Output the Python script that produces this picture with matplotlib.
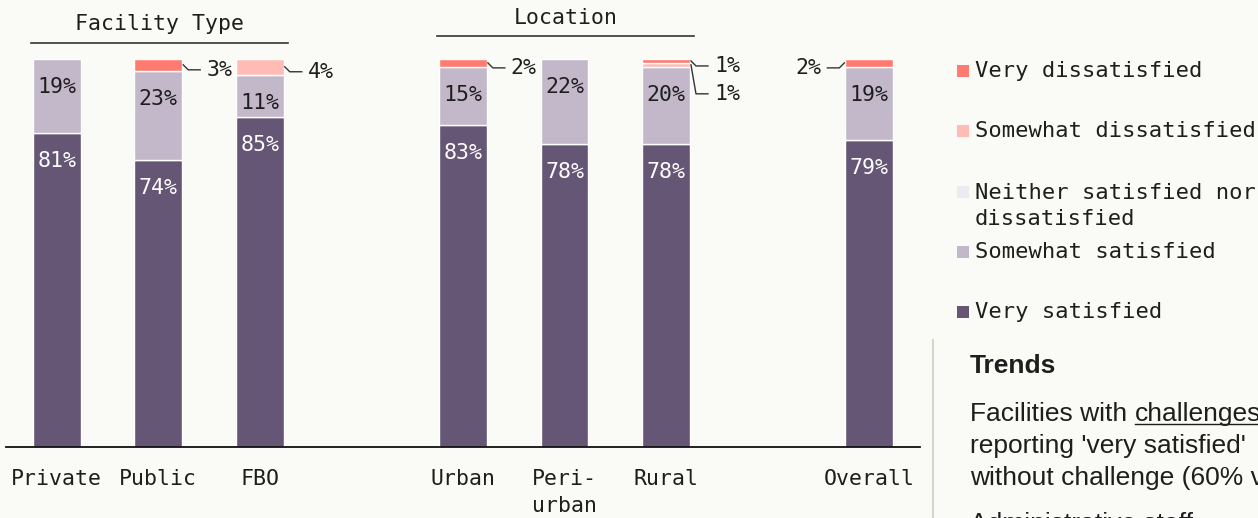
import matplotlib
matplotlib.use("Agg")
import matplotlib.pyplot as plt
from matplotlib.patches import Rectangle
from matplotlib.lines import Line2D
import numpy as np

# ---------------- data ----------------
categories = ["Private", "Public", "FBO", "Urban", "Peri-\nurban", "Rural", "Overall"]
groups = ["Facility Type", "Facility Type", "Facility Type",
          "Location", "Location", "Location", None]
very_satisfied = [81, 74, 85, 83, 78, 78, 79]
somewhat_satisfied = [19, 23, 11, 15, 22, 20, 19]
neither = [0, 0, 0, 0, 0, 0, 0]
somewhat_dissatisfied = [0, 0, 4, 0, 0, 1, 0]
very_dissatisfied = [0, 3, 0, 2, 0, 1, 2]
series_names = ["Very satisfied", "Somewhat satisfied",
                "Neither satisfied nor\ndissatisfied",
                "Somewhat dissatisfied", "Very dissatisfied"]
series_values = [very_satisfied, somewhat_satisfied, neither,
                 somewhat_dissatisfied, very_dissatisfied]

# ---------------- style ----------------
BG = "#FAFAF6"
COLORS = ["#645674", "#C2B8CA", "#EEEAF2", "#FFBCB6", "#FF7B70"]
INSIDE_TXT = ["white", "#1e1e1e", "#1e1e1e", "#1e1e1e", "#1e1e1e"]
MONO = "DejaVu Sans Mono"
SANS = "Liberation Sans"
FS = 15.5
W, H = 1258, 518

fig = plt.figure(figsize=(W / 100, H / 100), dpi=100, facecolor=BG)


def fx(px):
    return px / W


def fy(py):
    return 1 - py / H


ax = fig.add_axes([fx(6), fy(447), (920 - 6) / W, 388 / H])
ax.set_facecolor(BG)

# positions from groups (gap between groups)
pos = []
x = 0
prev = "start"
for g in groups:
    if prev != "start" and g != prev:
        x += 1
    pos.append(x)
    x += 1
    prev = g
pos = np.array(pos, dtype=float)

ax.set_xlim(-0.5, pos[-1] + 0.5)
ax.set_ylim(0, 100)
BW = 0.47

bottoms = np.zeros(len(categories))
seg_info = []  # (idx, series, bottom, value)
for s, vals in enumerate(series_values):
    vals = np.array(vals, dtype=float)
    mask = vals > 0
    ax.bar(pos[mask], vals[mask], width=BW, bottom=bottoms[mask],
           color=COLORS[s], edgecolor="white", linewidth=1.0, zorder=2)
    for i in range(len(categories)):
        if vals[i] > 0:
            seg_info.append((i, s, bottoms[i], vals[i]))
    bottoms = bottoms + vals

# inside labels
for i, s, b, v in seg_info:
    if v >= 5:
        ax.annotate(f"{int(v)}%", (pos[i], b + v), xytext=(0, -28),
                    textcoords="offset pixels", ha="center", va="center",
                    fontsize=FS, family=MONO, color=INSIDE_TXT[s], zorder=3)

# outside labels with leader lines
fig.canvas.draw()
inv = ax.transData.inverted()
for i in range(len(categories)):
    small = [(s, b, v) for (j, s, b, v) in seg_info if j == i and v < 5]
    small.sort(key=lambda t: -t[1])  # from top down
    left = (i == len(categories) - 1)
    for k, (s, b, v) in enumerate(small):
        mid = b + v / 2
        edge = pos[i] - BW / 2 if left else pos[i] + BW / 2
        ex, ey = ax.transData.transform((edge, mid))
        ty = ey - 5 - 24 * k  # pixel coords (up positive)
        sgn = -1 if left else 1
        pts = np.array([[ex + sgn * 1, ey], [ex + sgn * 6, ty], [ex + sgn * 18, ty]])
        dpts = inv.transform(pts)
        ax.add_line(Line2D(dpts[:, 0], dpts[:, 1], color="#333333", lw=1.0,
                           clip_on=False, zorder=3))
        tx, tyd = inv.transform((ex + sgn * 24, ty))
        ax.text(tx, tyd, f"{int(v)}%", ha="right" if left else "left",
                va="center", fontsize=FS, family=MONO, color="#1e1e1e",
                clip_on=False)

# group headers
header_y = {"Facility Type": (104.0, 109.0), "Location": (105.8, 110.6)}
for g in ["Facility Type", "Location"]:
    idx = [k for k, gg in enumerate(groups) if gg == g]
    x0 = pos[idx].min() - BW / 2 - 0.02
    x1 = pos[idx].max() + BW / 2 + 0.04
    ly, tyy = header_y[g]
    ax.plot([x0, x1], [ly, ly], color="#333333", lw=1.2, clip_on=False)
    ax.text((x0 + x1) / 2, tyy, g, ha="center", va="center", fontsize=FS,
            family=MONO, color="#1e1e1e", clip_on=False)

# axes styling
for sp in ["top", "right", "left"]:
    ax.spines[sp].set_visible(False)
ax.spines["bottom"].set_color("#111111")
ax.spines["bottom"].set_linewidth(1.3)
ax.set_yticks([])
ax.set_xticks(pos)
ax.set_xticklabels(categories, fontsize=FS, family=MONO, color="#1e1e1e",
                   linespacing=1.45)
ax.tick_params(axis="x", length=0, pad=16)

# legend (manual)
legend_y = [71, 131, 206, 252, 312]
legend_order = [4, 3, 2, 1, 0]
for yy, s in zip(legend_y, legend_order):
    sq_y = yy if s != 2 else 192
    fig.add_artist(Rectangle((fx(957), fy(sq_y + 6)), 12 / W, 12 / H,
                             transform=fig.transFigure, color=COLORS[s],
                             lw=0))
    fig.text(fx(975), fy(yy), series_names[s], ha="left", va="center",
             fontsize=15.9, family=MONO, color="#1e1e1e", linespacing=1.35)

# trends panel
fig.add_artist(Line2D([fx(933), fx(933)], [fy(340), fy(518)],
                      transform=fig.transFigure, color="#D6D7C6", lw=1.5))
fig.text(fx(970), fy(373), "Trends", ha="left", va="baseline", fontsize=19,
         family=SANS, weight="bold", color="#1e1e1e")
t1 = fig.text(fx(970), fy(421), "Facilities with ", ha="left", va="baseline",
              fontsize=19, family=SANS, color="#1e1e1e")
fig.canvas.draw()
bb = t1.get_window_extent()
fig.text(bb.x1 / W, fy(421), "challenges", ha="left", va="baseline",
         fontsize=19, family=SANS, color="#1e1e1e")
fig.add_artist(Line2D([bb.x1 / W, 1.0], [fy(424), fy(424)],
                      transform=fig.transFigure, color="#1e1e1e", lw=1.0))
fig.text(fx(970), fy(453), "reporting 'very satisfied'", ha="left",
         va="baseline", fontsize=19, family=SANS, color="#1e1e1e")
fig.text(fx(970), fy(485), "without challenge (60% v", ha="left",
         va="baseline", fontsize=19, family=SANS, color="#1e1e1e")
fig.text(fx(970), fy(531), "Administrative staff", ha="left",
         va="baseline", fontsize=19, family=SANS, color="#1e1e1e")

fig.savefig("out.png", dpi=100, facecolor=BG)
